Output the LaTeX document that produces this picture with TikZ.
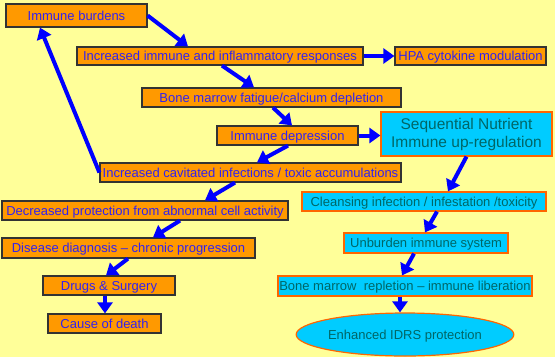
\documentclass[tikz,border=0pt]{standalone}
\usepackage{fontspec}
\setmainfont{Liberation Sans}
\usetikzlibrary{arrows.meta,shapes.geometric}

\definecolor{paper}{HTML}{FFFF99}
\definecolor{boxorange}{HTML}{FF9900}
\definecolor{boxcyan}{HTML}{00CCFF}
\definecolor{txtblue}{HTML}{3322EE}
\definecolor{txtteal}{HTML}{006666}
\definecolor{rimorange}{HTML}{FF6600}

\begin{document}
\begin{tikzpicture}[x=1pt, y=-1pt,
    decline/.style={draw=black!80, line width=1.2pt, fill=boxorange, text=txtblue,
      inner sep=0pt, text height=9.5pt, text depth=0pt, font=\fontsize{13}{15}\selectfont},
    recover/.style={draw=rimorange, line width=1.2pt, fill=boxcyan, text=txtteal,
      inner sep=0pt, text height=9.5pt, text depth=0pt, font=\fontsize{13}{15}\selectfont},
    flow/.style={draw=blue, line width=4pt, -{Triangle[length=11pt, width=15pt]}}]
    \fill[paper] (0, 0) rectangle (555, 357);
    \useasboundingbox (0, 0) rectangle (555, 357);
    % left column: the spiral down
    \node[decline, minimum width=141, minimum height=23] (burden) at (76.5, 15.5) {Immune burdens};
    \node[decline, minimum width=286, minimum height=18] (immresp) at (220, 56) {Increased immune and inflammatory responses};
    \node[decline, minimum width=151, minimum height=18] (hpa) at (470.5, 56) {HPA cytokine modulation};
    \node[decline, minimum width=259, minimum height=19] (marrow) at (271.5, 97.5) {Bone marrow fatigue/calcium depletion};
    \node[decline, minimum width=141, minimum height=19] (depress) at (287.5, 135.5) {Immune depression};
    \node[decline, minimum width=301, minimum height=19] (cavit) at (250.5, 172.5) {Increased cavitated infections / toxic accumulations};
    \node[decline, minimum width=286, minimum height=19] (decr) at (145, 210.5) {Decreased protection from abnormal cell activity};
    \node[decline, minimum width=253, minimum height=20] (diag) at (128.5, 248) {Disease diagnosis -- chronic progression};
    \node[decline, minimum width=132, minimum height=19] (drugs) at (109, 285.5) {Drugs \& Surgery};
    \node[decline, minimum width=113, minimum height=19] (death) at (104.5, 323.5) {Cause of death};
    % right column: the way back up
    \node[recover, minimum width=171, minimum height=44, align=center, text height=, text depth=,
      font=\fontsize{15.5}{18}\selectfont] (seqnut) at (466.5, 134) {Sequential Nutrient\\Immune up-regulation};
    \node[recover, minimum width=244, minimum height=19] (cleanse) at (424, 201.5) {Cleansing infection / infestation /toxicity};
    \node[recover, minimum width=164, minimum height=20] (unburden) at (426, 243) {Unburden immune system};
    \node[recover, minimum width=254, minimum height=20] (repl) at (405, 286) {Bone marrow\ \ repletion -- immune liberation};
    \node[recover, ellipse, minimum width=206, minimum height=43] (idrs) at (405, 334.5) {Enhanced IDRS protection};
    % arrows
    \draw[flow] (burden.east) -- ([xshift=-32]immresp.north);
    \draw[flow] (immresp.east) -- (hpa.west);
    \draw[flow] ([xshift=2]immresp.south) -- ([xshift=-17.5]marrow.north);
    \draw[flow] ([xshift=1.5]marrow.south) -- ([xshift=4.5]depress.north);
    \draw[flow] (depress.east) -- (depress.east -| seqnut.west);
    \draw[flow] ([xshift=0.5]depress.south) -- ([xshift=6.5]cavit.north);
    \draw[flow] (cavit.west) -- ([xshift=-36.5]burden.south);
    \draw[flow] ([xshift=-15.5]cavit.south) -- ([xshift=60]decr.north);
    \draw[flow] ([xshift=35]decr.south) -- ([xshift=24.5]diag.north);
    \draw[flow] ([xshift=-0.5]diag.south) -- ([xshift=-3]drugs.north);
    \draw[flow] ([xshift=-4]drugs.south) -- ([xshift=0.5]death.north);
    \draw[flow] (seqnut.south) -- ([xshift=24]cleanse.north);
    \draw[flow] ([xshift=13]cleanse.south) -- ([xshift=-1]unburden.north);
    \draw[flow] ([xshift=-12]unburden.south) -- ([xshift=-3]repl.north);
    \draw[flow] ([xshift=-5]repl.south) -- ([xshift=-5]idrs.north);
\end{tikzpicture}
\end{document}
